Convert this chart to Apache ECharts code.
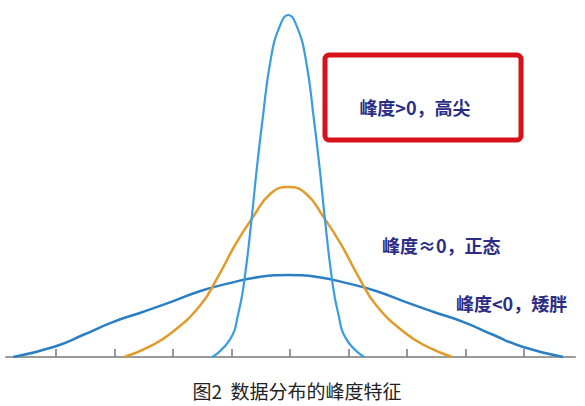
<!DOCTYPE html>
<html>
<head>
<meta charset="utf-8">
<title>数据分布的峰度特征</title>
<script src="https://cdn.jsdelivr.net/npm/echarts@6/dist/echarts.min.js"></script>
<style>
html, body { margin: 0; padding: 0; background: #fff; }
#main { width: 585px; height: 406px; }
</style>
</head>
<body>
<div id="main"></div>
<script type="text/javascript">
// 刻度位置（横轴）
var tickValues = [-4, -3, -2, -1, 0, 1, 2, 3, 4];

// 峰度>0，高尖 [x, y]
var peakedData = [
    [-1.33, 0], [-1.03, 0.05], [-0.88, 0.13], [-0.78, 0.225], [-0.655, 0.406],
    [-0.57, 0.547], [-0.47, 0.693], [-0.33, 0.87], [-0.18, 0.965], [-0.03, 1.0],
    [0.12, 0.965], [0.27, 0.87], [0.41, 0.693], [0.51, 0.547], [0.595, 0.406],
    [0.72, 0.225], [0.82, 0.13], [0.97, 0.05], [1.27, 0]
];

// 峰度≈0，正态
var normalData = [
    [-2.83, 0], [-2.43, 0.028], [-2.03, 0.07], [-1.53, 0.152], [-1.23, 0.235],
    [-0.93, 0.33], [-0.63, 0.41], [-0.33, 0.478], [-0.03, 0.497], [0.27, 0.478],
    [0.57, 0.41], [0.87, 0.33], [1.17, 0.235], [1.47, 0.152], [1.97, 0.07],
    [2.37, 0.028], [2.77, 0]
];

// 峰度<0，矮胖
var flatData = [
    [-4.73, 0], [-4.03, 0.03], [-3.53, 0.065], [-3.03, 0.102], [-2.53, 0.131],
    [-2.03, 0.161], [-1.53, 0.193], [-1.03, 0.216], [-0.53, 0.234], [-0.03, 0.240],
    [0.47, 0.234], [0.97, 0.216], [1.47, 0.193], [1.97, 0.161], [2.47, 0.131],
    [2.97, 0.102], [3.47, 0.065], [3.97, 0.03], [4.67, 0]
];

var labels = ['峰度>0，高尖', '峰度≈0，正态', '峰度<0，矮胖'];
var caption = '图2  数据分布的峰度特征';

var myChart = echarts.init(document.getElementById('main'), null, {renderer: 'svg'});

function curve(name, data, color, width) {
    return {
        name: name,
        type: 'line',
        data: data,
        smooth: 0.5,
        symbol: 'none',
        clip: false,
        lineStyle: {color: color, width: width}
    };
}

var textStyle = {
    fill: '#2b2d85',
    font: 'bold 18px "Noto Sans CJK SC"'
};

var option = {
    animation: false,
    backgroundColor: '#fff',
    grid: {left: 6, right: 10, top: 15, bottom: 49},
    xAxis: {
        type: 'value',
        min: -4.855,
        max: 4.872,
        axisLine: {lineStyle: {color: '#9a9a9a', width: 2}},
        axisTick: {
            customValues: tickValues,
            inside: true,
            length: 8,
            lineStyle: {color: '#7b6f92', width: 1.5}
        },
        axisLabel: {show: false},
        splitLine: {show: false}
    },
    yAxis: {
        type: 'value',
        min: 0,
        max: 1,
        show: false
    },
    series: [
        curve(labels[2], flatData, '#2a7fc4', 2.5),
        curve(labels[1], normalData, '#e09b2b', 2.5),
        curve(labels[0], peakedData, '#3a9ddd', 2.2)
    ],
    graphic: [
        {
            type: 'rect',
            shape: {x: 325, y: 55, width: 196, height: 85, r: 4},
            style: {fill: 'none', stroke: '#d8121b', lineWidth: 5}
        },
        {
            type: 'text',
            x: 415, y: 107,
            style: Object.assign({text: labels[0], align: 'center', verticalAlign: 'middle'}, textStyle)
        },
        {
            type: 'text',
            x: 382, y: 245,
            style: Object.assign({text: labels[1], align: 'left', verticalAlign: 'middle'}, textStyle)
        },
        {
            type: 'text',
            x: 456, y: 303,
            style: Object.assign({text: labels[2], align: 'left', verticalAlign: 'middle'}, textStyle)
        },
        {
            type: 'text',
            x: 297, y: 390,
            style: {
                text: caption,
                align: 'center',
                verticalAlign: 'middle',
                fill: '#222',
                font: '19px "Noto Sans CJK SC"'
            }
        }
    ]
};
myChart.setOption(option);
</script>
</body>
</html>
